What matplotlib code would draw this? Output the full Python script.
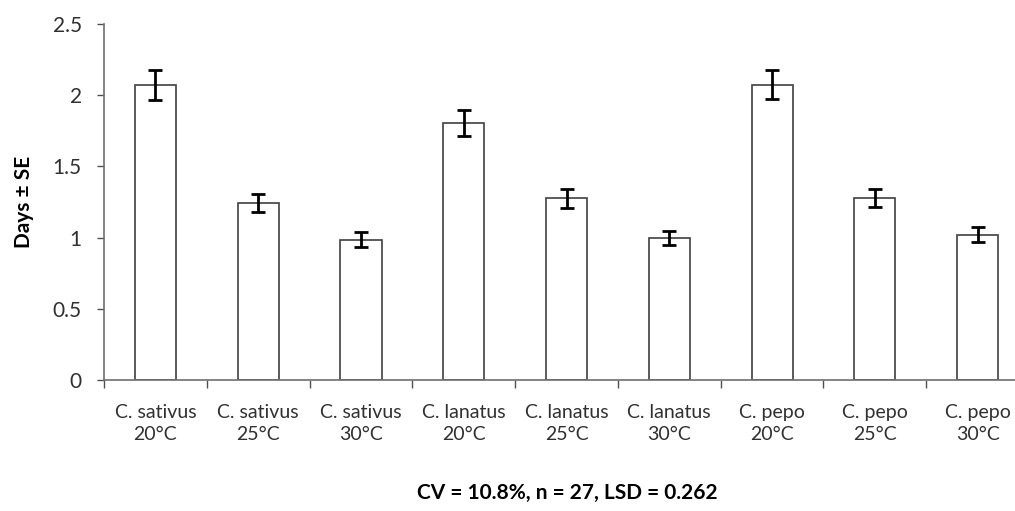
import matplotlib.pyplot as plt
import numpy as np

plt.rcParams['font.family'] = ['Lato', 'DejaVu Sans']

labels = ['C. sativus\n20°C', 'C. sativus\n25°C', 'C. sativus\n30°C',
          'C. lanatus\n20°C', 'C. lanatus\n25°C', 'C. lanatus\n30°C',
          'C. pepo\n20°C', 'C. pepo\n25°C', 'C. pepo\n30°C']
days = [2.07, 1.24, 0.985, 1.805, 1.275, 0.995, 2.075, 1.275, 1.02]
se = [0.105, 0.063, 0.051, 0.092, 0.069, 0.05, 0.103, 0.063, 0.054]

fig = plt.figure(figsize=(10.15, 5.11), dpi=100)
# axes runs a bit past the right edge, as in the original
ax = fig.add_axes([104/1015, 1 - 380/511, 925/1015, 356/511])

x = np.arange(len(days))
ax.bar(x, days, width=0.4, color='white', edgecolor='#404040', linewidth=1.2)
ax.errorbar(x, days, yerr=se, fmt='none', ecolor='black', elinewidth=2,
            capsize=5, capthick=2)

ax.set_xlim(-0.5, len(days) - 0.5)
ax.set_ylim(0, 2.5)
ax.set_yticks([0, 0.5, 1, 1.5, 2, 2.5])
ax.set_yticklabels(['0', '0.5', '1', '1.5', '2', '2.5'])

ax.set_xticks(x)
ax.set_xticklabels(labels, linespacing=1.35)
ax.tick_params(axis='x', which='major', length=0, pad=17, labelsize=14, labelcolor='#303030')
ax.set_xticks(np.arange(-0.5, len(days), 1), minor=True)
ax.tick_params(axis='x', which='minor', length=6, width=1, color='#505050')
ax.tick_params(axis='y', length=5, width=1, color='#505050', labelsize=15,
               labelcolor='#303030', pad=11)

for s in ['top', 'right']:
    ax.spines[s].set_visible(False)
for s in ['left', 'bottom']:
    ax.spines[s].set_color('#707070')
    ax.spines[s].set_linewidth(1.2)

ax.set_ylabel('Days ± SE', fontsize=15, fontweight='bold', labelpad=20)
ax.yaxis.set_label_coords(-70/925, 0.5)
fig.text(567/1015, 1 - 493/511, 'CV = 10.8%, n = 27, LSD = 0.262', ha='center',
         va='center', fontsize=15, fontweight='bold')

fig.savefig('out.png', dpi=100)
